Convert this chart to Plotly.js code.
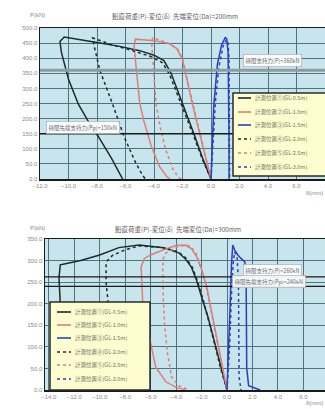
<!DOCTYPE html>
<html><head><meta charset="utf-8">
<script src="https://cdn.plot.ly/plotly-3.0.1.min.js"></script>
<style>html,body{margin:0;padding:0;background:#fff;overflow:hidden}#chart{width:325px;height:409px}</style>
</head><body><div id="chart"></div><script>
// ---------- texts ----------
const topTitle = "鉛直荷重(P)-変位(δ)  先端変位(Da)=200mm";
const botTitle = "鉛直荷重(P)-変位(δ)  先端変位(Da)=300mm";
const yUnit = "P(kN)";
const xUnit = "δ(mm)";
const seriesNames = ["計測位置①(GL-0.5m)", "計測位置②(GL-1.0m)", "計測位置③(GL-1.5m)",
                     "計測位置④(GL-2.0m)", "計測位置⑤(GL-2.5m)", "計測位置⑥(GL-3.0m)"];
const seriesColors = ["#1e2b2b", "#dc7f78", "#2a3fc4", "#1e2b2b", "#dc7f78", "#2a3fc4"];
const seriesDash = ["solid", "solid", "solid", "dot", "dot", "dot"];

// ---------- top chart (Da = 200mm) ----------
const topXTicks = [-12, -10, -8, -6, -4, -2, 0, 2, 4, 6, 8];
const topYTicks = [0, 50, 100, 150, 200, 250, 300, 350, 400, 450, 500];
const topLimitP = 360, topLimitPp = 150;
const topLimitLabels = ["極限支持力(P)=360kN", "極限先端支持力(Pp)=150kN"];
const top1x = [0,-0.6,-1.2,-1.8,-2.3,-2.8,-3.3,-4.0,-5.0,-6.5,-8.0,-9.5,-10.3,-10.6,-10.5,-10.0,-9.3,-8.6,-7.9,-7.0,-6.4,-6.2];
const top1y = [0,70,150,225,290,350,392,410,425,440,452,463,470,455,420,330,247,190,140,70,15,0];
const top2x = [0,-0.5,-0.9,-1.3,-1.7,-2.0,-2.4,-3.0,-4.0,-5.0,-5.3,-5.4,-5.2,-5.0,-4.7,-4.2,-3.6,-3.1,-2.9];
const top2y = [0,90,170,247,330,395,432,450,458,462,463,440,350,250,190,110,40,8,0];
const top3x = [0,0.07,0.2,0.45,0.75,1.0,1.1,1.2,1.24,1.26,1.27];
const top3y = [0,100,247,380,445,468,465,420,300,150,0];
const top4x = [0,-0.6,-1.2,-1.8,-2.4,-2.9,-3.4,-4.2,-5.5,-7.0,-7.9,-8.3,-8.2,-7.8,-6.9,-6.1,-5.3,-4.8,-4.6];
const top4y = [0,65,140,215,285,345,385,405,425,445,460,467,440,360,247,140,55,12,0];
const top5x = [0,-0.45,-0.85,-1.25,-1.65,-1.95,-2.3,-2.9,-3.6,-4.1,-4.15,-4.0,-3.85,-3.6,-3.2,-2.7,-2.3,-2.1];
const top5y = [0,85,165,245,325,390,428,448,460,467,440,340,247,180,100,35,6,0];
const top6x = [0,0.12,0.3,0.55,0.85,1.1,1.2,1.26,1.28,1.29,1.3];
const top6y = [0,110,250,370,440,462,450,400,280,130,0];

// ---------- bottom chart (Da = 300mm) ----------
const botXTicks = [-14, -12, -10, -8, -6, -4, -2, 0, 2, 4, 6, 8];
const botYTicks = [0, 50, 100, 150, 200, 250, 300, 350];
const botLimitP = 262, botLimitPp = 240;
const botLimitLabels = ["極限支持力(P)=260kN", "極限先端支持力(Pp)=240kN"];
const bot1x = [0,-0.5,-1.0,-1.5,-2.0,-2.4,-2.8,-3.3,-3.8,-5.0,-6.9,-8.5,-10.0,-11.5,-12.6,-13.1,-13.2,-13.1,-12.8,-12.2,-11.5,-10.8,-10.5];
const bot1y = [0,55,115,170,216,255,285,305,318,330,336,330,313,300,293,290,260,200,140,80,35,8,0];
const bot2x = [0,-0.4,-0.8,-1.2,-1.6,-2.0,-2.4,-2.8,-3.3,-4.0,-5.0,-6.0,-6.5,-6.75,-6.7,-6.6,-6.4,-6.0,-5.6,-4.8,-4.0,-3.5,-3.3];
const bot2y = [0,60,120,180,240,280,310,328,336,335,325,313,305,285,240,190,165,110,53,19,6,2,0];
const bot3x = [0,0.15,0.25,0.35,0.45,0.6,0.85,1.1,1.4,1.5,1.5,1.55,1.7,2.2,2.6];
const bot3y = [0,100,200,290,336,325,313,305,297,270,150,50,10,5,0];
const bot4x = [0,-0.5,-1.0,-1.5,-1.9,-2.3,-2.7,-3.2,-3.8,-5.0,-6.9,-8.0,-9.0,-9.4,-9.5,-9.5,-9.3,-8.9,-8.3,-7.7,-7.4];
const bot4y = [0,50,110,168,212,250,283,305,320,330,334,325,312,300,290,250,190,130,60,15,0];
const bot5x = [0,-0.4,-0.8,-1.2,-1.6,-2.0,-2.4,-2.8,-3.2,-3.8,-4.4,-4.8,-5.0,-5.05,-5.0,-4.9,-4.7,-4.35,-3.8,-3.3,-3.0];
const bot5y = [0,55,115,175,235,280,315,332,336,333,325,318,305,280,209,150,90,30,10,3,0];
const bot6x = [0,0.2,0.35,0.5,0.6,0.8,0.9,0.9,0.95,1.1];
const bot6y = [0,100,220,300,320,305,250,120,30,0];

// ---------- build ----------
const W = 325, H = 409;
const px = v => v / W, py = v => 1 - v / H;
const topData = [[top1x,top1y],[top2x,top2y],[top3x,top3y],[top4x,top4y],[top5x,top5y],[top6x,top6y]];
const botData = [[bot1x,bot1y],[bot2x,bot2y],[bot3x,bot3y],[bot4x,bot4y],[bot5x,bot5y],[bot6x,bot6y]];
const traces = [];
topData.forEach((d, i) => traces.push({x: d[0], y: d[1], xaxis: 'x', yaxis: 'y', mode: 'lines', name: seriesNames[i],
  showlegend: false, line: {color: seriesColors[i], dash: seriesDash[i], width: 1.5}}));
botData.forEach((d, i) => traces.push({x: d[0], y: d[1], xaxis: 'x2', yaxis: 'y2', mode: 'lines', name: seriesNames[i],
  showlegend: false, line: {color: seriesColors[i], dash: seriesDash[i], width: 1.5}}));

const tickFont = {family: 'Liberation Sans, Arial', size: 6, color: '#8a8a8a'};
const cjk = 'Noto Sans CJK JP';
const axisCommon = {showgrid: true, gridcolor: '#4f7480', gridwidth: 1, zeroline: false, showline: true,
  linecolor: '#1a1a1a', linewidth: 1.5, mirror: true, tickfont: tickFont, tickformat: '.1f', ticks: '', fixedrange: true};

const shapes = [], annotations = [];
// limit lines
shapes.push({type: 'line', xref: 'x domain', yref: 'y', x0: 0, x1: 1, y0: topLimitP, y1: topLimitP, line: {color: '#8e9ca2', width: 3}});
shapes.push({type: 'line', xref: 'x domain', yref: 'y', x0: 0, x1: 1, y0: topLimitPp, y1: topLimitPp, line: {color: '#1a1a1a', width: 1.5}});
shapes.push({type: 'line', xref: 'x2 domain', yref: 'y2', x0: 0, x1: 1, y0: botLimitP, y1: botLimitP, line: {color: '#1a1a1a', width: 1.3}});
shapes.push({type: 'line', xref: 'x2 domain', yref: 'y2', x0: 0, x1: 1, y0: botLimitPp, y1: botLimitPp, line: {color: '#1a1a1a', width: 1.3}});
const limFont = {family: cjk, size: 5.5, color: '#6a6a6a'};
const limBox = {bgcolor: 'rgba(255,255,255,0.9)', bordercolor: '#a0a0a0', borderwidth: 0.6, borderpad: 2, showarrow: false, font: limFont};
annotations.push(Object.assign({xref: 'paper', yref: 'paper', x: px(243), y: py(61), xanchor: 'left', yanchor: 'middle', text: topLimitLabels[0]}, limBox));
annotations.push(Object.assign({xref: 'paper', yref: 'paper', x: px(46), y: py(127), xanchor: 'left', yanchor: 'middle', text: topLimitLabels[1]}, limBox));
annotations.push(Object.assign({xref: 'paper', yref: 'paper', x: px(243), y: py(270), xanchor: 'left', yanchor: 'middle', text: botLimitLabels[0]}, limBox));
annotations.push(Object.assign({xref: 'paper', yref: 'paper', x: px(232), y: py(281), xanchor: 'left', yanchor: 'middle', text: botLimitLabels[1]}, limBox));

// custom legends (boxes drawn over the curves)
function legendBox(x0, y0, x1, y1, rows, lineX0, lineX1, textX) {
  shapes.push({type: 'rect', xref: 'paper', yref: 'paper', x0: px(x0), x1: px(x1), y0: py(y1), y1: py(y0),
    fillcolor: '#fdfdcf', line: {color: '#2a2a2a', width: 1.5}, layer: 'above'});
  seriesNames.forEach((n, i) => {
    const yy = py(rows[i]);
    shapes.push({type: 'line', xref: 'paper', yref: 'paper', x0: px(lineX0), x1: px(lineX1), y0: yy, y1: yy,
      line: {color: seriesColors[i], dash: seriesDash[i], width: 1.6}, layer: 'above'});
    annotations.push({xref: 'paper', yref: 'paper', x: px(textX), y: yy, xanchor: 'left', yanchor: 'middle',
      text: n, showarrow: false, font: {family: cjk, size: 5.5, color: '#707060'}});
  });
}
legendBox(233, 93, 332, 176, [98, 112, 125, 139, 153, 167], 238, 251, 253);
legendBox(50, 302, 150, 390, [312, 325, 338, 352, 365, 379], 57, 71, 73);

// titles and units
const titleFont = {family: cjk, size: 6.5, color: '#606060'};
annotations.push({xref: 'paper', yref: 'paper', x: px(175), y: py(16), yanchor: 'middle', text: topTitle, showarrow: false, font: titleFont});
annotations.push({xref: 'paper', yref: 'paper', x: px(178), y: py(229), yanchor: 'middle', text: botTitle, showarrow: false, font: titleFont});
annotations.push({xref: 'paper', yref: 'paper', x: px(28), y: py(15), yanchor: 'middle', text: yUnit, showarrow: false, font: tickFont});
annotations.push({xref: 'paper', yref: 'paper', x: px(28), y: py(228), yanchor: 'middle', text: yUnit, showarrow: false, font: tickFont});
annotations.push({xref: 'paper', yref: 'paper', x: 1, y: py(193), xanchor: 'right', yanchor: 'middle', text: xUnit, showarrow: false, font: tickFont});
annotations.push({xref: 'paper', yref: 'paper', x: 1, y: py(403), xanchor: 'right', yanchor: 'middle', text: xUnit, showarrow: false, font: tickFont});

const layout = {
  width: W, height: H, margin: {l: 0, r: 0, t: 0, b: 0}, showlegend: false,
  paper_bgcolor: '#ffffff', plot_bgcolor: '#c8e4ec',
  xaxis: Object.assign({}, axisCommon, {domain: [px(40), 1], range: [-12, 8], tickvals: topXTicks, anchor: 'y'}),
  yaxis: Object.assign({}, axisCommon, {domain: [py(179), py(28)], range: [0, 500], tickvals: topYTicks, anchor: 'x'}),
  xaxis2: Object.assign({}, axisCommon, {domain: [px(45), 1], range: [-14.3, 7.7], tickvals: botXTicks, anchor: 'y2'}),
  yaxis2: Object.assign({}, axisCommon, {domain: [py(390), py(239)], range: [0, 350], tickvals: botYTicks, anchor: 'x2'}),
  shapes: shapes, annotations: annotations
};
Plotly.newPlot('chart', traces, layout, {displayModeBar: false, staticPlot: true});
</script></body></html>
